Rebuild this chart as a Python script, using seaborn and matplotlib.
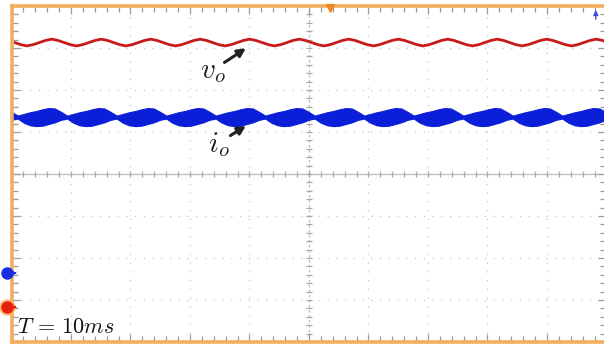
import numpy as np
import matplotlib
matplotlib.use("Agg")
import matplotlib.pyplot as plt
import seaborn as sns

# time base: 10 ms per division, 10 divisions across the screen
ms_per_div = 10.0

# output voltage trace (divisions), read every 1.04 ms starting at 0.52 ms
vo_t0 = 0.52
vo_dt = 1.04
vo_div = [
    3.13, 3.08, 3.05, 3.08, 3.13, 3.18, 3.21, 3.18,
    3.13, 3.08, 3.05, 3.08, 3.13, 3.18, 3.21, 3.18,
    3.13, 3.08, 3.05, 3.08, 3.13, 3.18, 3.21, 3.18,
    3.13, 3.08, 3.05, 3.08, 3.13, 3.18, 3.21, 3.18,
    3.13, 3.08, 3.05, 3.08, 3.13, 3.18, 3.21, 3.18,
    3.13, 3.08, 3.05, 3.08, 3.13, 3.18, 3.21, 3.18,
    3.13, 3.08, 3.05, 3.08, 3.13, 3.18, 3.21, 3.18,
    3.13, 3.08, 3.05, 3.08, 3.13, 3.18, 3.21, 3.18,
    3.13, 3.08, 3.05, 3.08, 3.13, 3.18, 3.21, 3.18,
    3.13, 3.08, 3.05, 3.08, 3.13, 3.18, 3.21, 3.18,
    3.13, 3.08, 3.05, 3.08, 3.13, 3.18, 3.21, 3.18,
    3.13, 3.08, 3.05, 3.08, 3.13, 3.18, 3.21, 3.18,
    3.13,
]

# output current band (switching ripple envelope), read every 1.04 ms from 0 ms
io_t0 = 0.0
io_dt = 1.04
io_top = [
    1.48, 1.39, 1.43, 1.47, 1.50, 1.54, 1.57, 1.56,
    1.48, 1.39, 1.43, 1.47, 1.50, 1.54, 1.57, 1.56,
    1.48, 1.39, 1.43, 1.47, 1.50, 1.54, 1.57, 1.56,
    1.48, 1.39, 1.43, 1.47, 1.50, 1.54, 1.57, 1.56,
    1.48, 1.39, 1.43, 1.47, 1.50, 1.54, 1.57, 1.56,
    1.48, 1.39, 1.43, 1.47, 1.50, 1.54, 1.57, 1.56,
    1.48, 1.39, 1.43, 1.47, 1.50, 1.54, 1.57, 1.56,
    1.48, 1.39, 1.43, 1.47, 1.50, 1.54, 1.57, 1.56,
    1.48, 1.39, 1.43, 1.47, 1.50, 1.54, 1.57, 1.56,
    1.48, 1.39, 1.43, 1.47, 1.50, 1.54, 1.57, 1.56,
    1.48, 1.39, 1.43, 1.47, 1.50, 1.54, 1.57, 1.56,
    1.48, 1.39, 1.43, 1.47, 1.50, 1.54, 1.57, 1.56,
    1.48, 1.39,
]
io_bottom = [
    1.29, 1.32, 1.22, 1.16, 1.14, 1.15, 1.19, 1.23,
    1.29, 1.32, 1.22, 1.16, 1.14, 1.15, 1.19, 1.23,
    1.29, 1.32, 1.22, 1.16, 1.14, 1.15, 1.19, 1.23,
    1.29, 1.32, 1.22, 1.16, 1.14, 1.15, 1.19, 1.23,
    1.29, 1.32, 1.22, 1.16, 1.14, 1.15, 1.19, 1.23,
    1.29, 1.32, 1.22, 1.16, 1.14, 1.15, 1.19, 1.23,
    1.29, 1.32, 1.22, 1.16, 1.14, 1.15, 1.19, 1.23,
    1.29, 1.32, 1.22, 1.16, 1.14, 1.15, 1.19, 1.23,
    1.29, 1.32, 1.22, 1.16, 1.14, 1.15, 1.19, 1.23,
    1.29, 1.32, 1.22, 1.16, 1.14, 1.15, 1.19, 1.23,
    1.29, 1.32, 1.22, 1.16, 1.14, 1.15, 1.19, 1.23,
    1.29, 1.32, 1.22, 1.16, 1.14, 1.15, 1.19, 1.23,
    1.29, 1.32,
]

# channel ground markers (divisions) and trigger position
ch_io_ground = -2.36
ch_vo_ground = -3.17
trigger_x = 0.35

sns.set_style("white")
plt.rcParams["mathtext.fontset"] = "cm"

fig = plt.figure(figsize=(6.04, 3.47), dpi=100)
ax = fig.add_axes([11.5 / 604, 5 / 347, 595 / 604, 336 / 347])

t_vo = vo_t0 + vo_dt * np.arange(len(vo_div))
t_io = io_t0 + io_dt * np.arange(len(io_top))
x_vo = t_vo / ms_per_div - 5
x_io = t_io / ms_per_div - 5

# graticule
grid_c = "#c8c8c8"
for g in range(-4, 5):
    if g != 0:
        ax.axvline(g, color=grid_c, lw=0.9, ls=(0, (1, 6)), zorder=0)
for g in range(-3, 4):
    if g != 0:
        ax.axhline(g, color=grid_c, lw=0.9, ls=(0, (1, 6)), zorder=0)
ax.axhline(0, color="#bcbcbc", lw=0.9, zorder=0)
ax.axvline(0, color="#bcbcbc", lw=0.9, ls=(0, (2, 2)), zorder=0)
xs = np.arange(-5, 5.01, 0.2)
ys = np.arange(-4, 4.01, 0.2)
ax.plot(xs, np.zeros_like(xs), ls="none", marker="|", ms=5, color="#a8a8a8", mew=0.9, zorder=0)
ax.plot(np.zeros_like(ys), ys, ls="none", marker="_", ms=5, color="#a8a8a8", mew=0.9, zorder=0)

# traces
ax.fill_between(x_io, io_bottom, io_top, color="#0b1fd8", lw=0.8, edgecolor="#0b1fd8", zorder=3)
sns.lineplot(x=x_vo, y=vo_div, ax=ax, color="#c81a1a", lw=2.0, zorder=4)

ax.set_xlim(-5, 5)
ax.set_ylim(-4, 4)

# frame
for side in ["top", "bottom", "left", "right"]:
    ax.spines[side].set_color("#f2ae5c")
    ax.spines[side].set_linewidth(2.6)
    ax.spines[side].set_zorder(6)
ax.set_xticks(np.arange(-5, 5.01, 1))
ax.set_xticks(np.arange(-5, 5.01, 0.2), minor=True)
ax.set_yticks(np.arange(-4, 4.01, 1))
ax.set_yticks(np.arange(-4, 4.01, 0.2), minor=True)
ax.tick_params(which="both", direction="in", top=True, bottom=True, left=True, right=True,
               labelbottom=False, labelleft=False, color="#9a9a9a", width=0.9)
ax.tick_params(which="major", length=6)
ax.tick_params(which="minor", length=4)

# labels and arrows
ax.text(-1.83, 2.29, r"$v_o$", fontsize=21, color="#222222", va="baseline", zorder=7)
ax.annotate("", xy=(-1.02, 3.03), xytext=(-1.46, 2.62),
            arrowprops=dict(arrowstyle="-|>", color="#222222", lw=2.2, mutation_scale=12), zorder=7)
ax.text(-1.70, 0.52, r"$i_o$", fontsize=21, color="#222222", va="baseline", zorder=7)
ax.annotate("", xy=(-1.02, 1.18), xytext=(-1.36, 0.88),
            arrowprops=dict(arrowstyle="-|>", color="#222222", lw=2.2, mutation_scale=12), zorder=7)
ax.text(-4.9, -3.79, r"$T\,=\,10ms$", fontsize=16, color="#111111", va="baseline", zorder=7)

# channel ground markers
ax.plot([-5.08], [ch_io_ground], marker="o", ms=8, color="#1a2ee0", clip_on=False, zorder=8)
ax.annotate("", xy=(-4.86, ch_io_ground), xytext=(-5.0, ch_io_ground),
            arrowprops=dict(arrowstyle="-|>", color="#1a2ee0", lw=1.0, mutation_scale=7),
            annotation_clip=False, zorder=8)
ax.plot([-5.08], [ch_vo_ground], marker="o", ms=11, color="#ffb060", alpha=0.7, clip_on=False, zorder=8)
ax.plot([-5.08], [ch_vo_ground], marker="o", ms=8, color="#e82010", clip_on=False, zorder=9)
ax.annotate("", xy=(-4.86, ch_vo_ground), xytext=(-5.0, ch_vo_ground),
            arrowprops=dict(arrowstyle="-|>", color="#e82010", lw=1.0, mutation_scale=7),
            annotation_clip=False, zorder=9)

# trigger marker and top-right arrow
ax.plot([trigger_x], [3.95], marker="v", ms=6, color="#f08a20", clip_on=False, zorder=8)
ax.annotate("", xy=(4.82, 3.97), xytext=(4.82, 3.62),
            arrowprops=dict(arrowstyle="-|>", color="#3050e0", lw=1.0, mutation_scale=7), zorder=8)

fig.savefig("out.png", dpi=100)
